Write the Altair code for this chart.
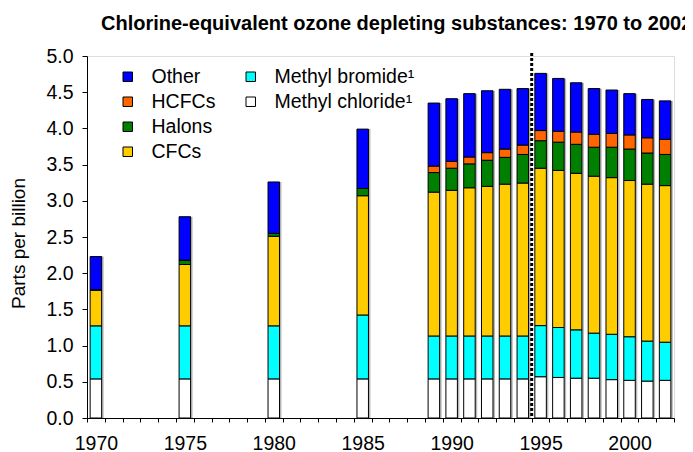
import altair as alt
import pandas as pd

years = [1970, 1975, 1980, 1985, 1989, 1990, 1991, 1992, 1993, 1994,
         1995, 1996, 1997, 1998, 1999, 2000, 2001, 2002]
methyl_chloride = [0.54, 0.54, 0.54, 0.54, 0.54, 0.54, 0.54, 0.54, 0.54, 0.54,
                   0.57, 0.56, 0.55, 0.55, 0.53, 0.52, 0.51, 0.52]
methyl_bromide = [0.73, 0.73, 0.73, 0.88, 0.59, 0.59, 0.59, 0.59, 0.59, 0.59,
                  0.705, 0.69, 0.665, 0.62, 0.625, 0.60, 0.55, 0.525]
cfcs = [0.50, 0.85, 1.24, 1.65, 1.99, 2.015, 2.05, 2.07, 2.10, 2.115,
        2.175, 2.17, 2.165, 2.17, 2.165, 2.16, 2.17, 2.165]
halons = [0.0, 0.06, 0.04, 0.10, 0.27, 0.305, 0.33, 0.36, 0.37, 0.395,
          0.38, 0.39, 0.40, 0.40, 0.42, 0.435, 0.43, 0.43]
hcfcs = [0.0, 0.0, 0.0, 0.0, 0.09, 0.095, 0.095, 0.105, 0.115, 0.13,
         0.14, 0.15, 0.17, 0.18, 0.19, 0.195, 0.21, 0.21]
other = [0.46, 0.60, 0.71, 0.82, 0.87, 0.865, 0.875, 0.855, 0.825, 0.78,
         0.79, 0.73, 0.68, 0.63, 0.60, 0.57, 0.53, 0.53]

series_names = ["Methyl chloride¹", "Methyl bromide¹", "CFCs", "Halons", "HCFCs", "Other"]
series_values = [methyl_chloride, methyl_bromide, cfcs, halons, hcfcs, other]
series_colors = ["#FFFFFF", "#00FFFF", "#FFCC00", "#008000", "#FF6600", "#0000FF"]

main_names = ["Other", "HCFCs", "Halons", "CFCs"]
methyl_names = ["Methyl bromide¹", "Methyl chloride¹"]
color_of = dict(zip(series_names, series_colors))

axis_years = list(range(1970, 2003))
label_years = [1970, 1975, 1980, 1985, 1990, 1995, 2000]
marker_year = [1995]
y_ticks = [0, 0.5, 1.0, 1.5, 2.0, 2.5, 3.0, 3.5, 4.0, 4.5, 5.0]

rows = []
for order, (name, vals) in enumerate(zip(series_names, series_values)):
    for yr, v in zip(years, vals):
        rows.append({"year": yr, "series": name, "value": v, "order": order})
df = pd.DataFrame(rows)

FONT = "Liberation Sans"
BAR_W = 11.5

x_enc = alt.X(
    "year:O",
    scale=alt.Scale(domain=axis_years, paddingInner=0, paddingOuter=0),
    axis=alt.Axis(
        title=None, tickBand="extent", labelAngle=0,
        labelExpr="indexof(" + str(label_years) + ", datum.value) >= 0 ? datum.label : ''",
        tickSize=4, labelPadding=12, labelFontSize=19.5, labelFont=FONT,
        labelColor="black", domainColor="black", tickColor="black",
    ),
)
y_scale = alt.Scale(domain=[0, 5], nice=False, zero=True)
y_axis = alt.Axis(
    title="Parts per billion", values=y_ticks, format=".1f", grid=False,
    tickSize=5, labelPadding=9, labelFontSize=19.5, labelFont=FONT, labelColor="black",
    domainColor="black", tickColor="black",
    titleFont=FONT, titleFontSize=19, titleFontWeight="normal", titleColor="black",
    titleX=-69, titleY=187, titleAngle=-90, titleAlign="center", titleBaseline="middle",
)

base = alt.Chart(df).transform_stack(
    stack="value", groupby=["year"], as_=["y0", "y1"],
    sort=[alt.SortField("order", order="ascending")],
)

shadow = base.transform_aggregate(total="sum(value)", groupby=["year"]).mark_bar(
    width=BAR_W, xOffset=2, color="#9a9a9a", opacity=0.7
).encode(x=x_enc, y=alt.Y("total:Q", scale=y_scale, axis=y_axis))

legend_common = dict(
    title=None, orient="none", symbolType="square", symbolSize=90,
    symbolStrokeColor="black", symbolStrokeWidth=1, labelFont=FONT,
    labelFontSize=19.5, labelColor="black", rowPadding=4, labelOffset=14,
    padding=0, symbolOpacity=1,
)

main_bars = base.transform_filter(
    alt.FieldOneOfPredicate(field="series", oneOf=main_names)
).mark_bar(width=BAR_W, stroke="black", strokeWidth=1).encode(
    x=x_enc,
    y=alt.Y("y1:Q", scale=y_scale, axis=y_axis),
    y2="y0:Q",
    color=alt.Color(
        "series:N",
        scale=alt.Scale(domain=main_names, range=[color_of[n] for n in main_names]),
        legend=alt.Legend(legendX=31, legendY=11, **legend_common),
        sort=main_names,
    ),
)

methyl_bars = base.transform_filter(
    alt.FieldOneOfPredicate(field="series", oneOf=methyl_names)
).mark_bar(width=BAR_W, stroke="black", strokeWidth=1).encode(
    x=x_enc,
    y=alt.Y("y1:Q", scale=y_scale, axis=y_axis),
    y2="y0:Q",
    fill=alt.Fill(
        "series:N",
        scale=alt.Scale(domain=methyl_names, range=[color_of[n] for n in methyl_names]),
        legend=alt.Legend(legendX=154, legendY=11, **legend_common),
        sort=methyl_names,
    ),
)

marker = alt.Chart(pd.DataFrame({"year": marker_year})).mark_rule(
    color="black", strokeWidth=3, strokeDash=[3, 2]
).encode(
    x=alt.X("year:O", bandPosition=0),
    y=alt.value(-3), y2=alt.value(362),
)

chart = alt.layer(shadow, main_bars, methyl_bars, marker).resolve_scale(
    color="independent", fill="independent"
).properties(
    width=587, height=362,
    autosize=alt.AutoSizeParams(type="none"),
    padding={"left": 79, "top": 48, "right": 11, "bottom": 34},
    title=alt.TitleParams(
        "Chlorine-equivalent ozone depleting substances: 1970 to 2002",
        font=FONT, fontSize=20, fontWeight="bold", color="black",
        anchor="start", frame="group", dx=14, dy=26, offset=22, baseline="alphabetic",
    ),
).configure_view(stroke=None).configure(background="white")

chart.save("out.html", embed_options={"renderer": "svg", "actions": False})
